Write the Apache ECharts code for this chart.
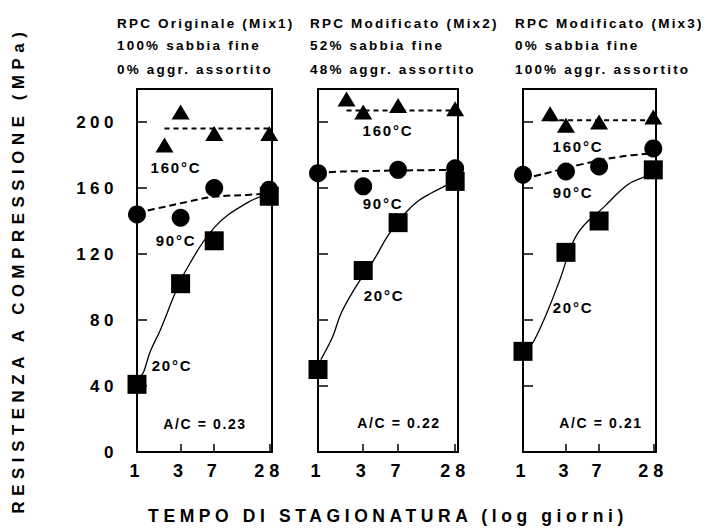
<!DOCTYPE html>
<html>
<head>
<meta charset="utf-8">
<title>Resistenza a compressione RPC</title>
<script src="https://cdn.jsdelivr.net/npm/echarts@6/dist/echarts.min.js"></script>
<style>
  html, body { margin: 0; padding: 0; background: #fff; }
  #chart { width: 709px; height: 528px; }
  /* all lettering in the original is bold and widely spaced, svg text takes it from css */
  #chart text { font-weight: bold !important; }
  #chart text[style*="13.5px"] { letter-spacing: 2.2px; }
  #chart text[style*="17px"] { letter-spacing: 4.5px; }
  #chart text[style*="18px"] { letter-spacing: 5px; }
  #chart text[style*="15px"] { letter-spacing: 1.8px; }
  #chart text[style*="14px"] { letter-spacing: 1.6px; }
  #chart text[style*="17.5px"] { letter-spacing: 4.6px; }
  #chart text[style*="16.8px"] { letter-spacing: 5.6px; }
</style>
</head>
<body>
<div id="chart"></div>
<script>
// giorni di stagionatura
const days = [1, 3, 7, 28];
const days160 = [2, 3, 7, 28];
const xLabelValues = [1, 3, 7, 28];
const xTickValues = [3, 7, 28];
const yTickValues = [0, 40, 80, 120, 160, 200];

const headers = [
  ['RPC Originale (Mix1)', '100% sabbia fine', '0% aggr. assortito'],
  ['RPC Modificato (Mix2)', '52% sabbia fine', '48% aggr. assortito'],
  ['RPC Modificato (Mix3)', '0% sabbia fine', '100% aggr. assortito']
];
const ratios = ['A/C = 0.23', 'A/C = 0.22', 'A/C = 0.21'];
const tempNames = ['160°C', '90°C', '20°C'];

// resistenza (MPa) - Mix1
const mix1At20 = [41, 102, 128, 155];
const mix1At90 = [144, 142, 160, 159];
const mix1At160 = [186, 206, 193, 193];
// Mix2
const mix2At20 = [50, 110, 139, 164];
const mix2At90 = [169, 161, 171, 172];
const mix2At160 = [214, 206, 210, 208];
// Mix3
const mix3At20 = [61, 121, 140, 171];
const mix3At90 = [168, 170, 173, 184];
const mix3At160 = [205, 198, 200, 203];

// curve di tendenza [giorni, MPa]
const fit1At20 = [[1.1, 46], [1.19, 49], [1.4, 61], [1.8, 74], [2.6, 96], [3.3, 108.5], [7, 136], [16, 151], [30, 157]];
const fit1At90 = [[1, 145], [1.9, 148.3], [3.6, 151.7], [7, 154.7], [16, 155.8], [30, 156.8]];
const fit1At160 = [[2, 196], [30, 196]];
const fit2At20 = [[1.07, 56], [1.43, 70], [1.75, 84], [2.44, 99], [3.84, 116], [5.6, 132], [8.4, 145], [11.3, 152], [15.7, 157], [21.5, 161], [30, 165]];
const fit2At90 = [[1, 169], [1.8, 170], [30, 171]];
const fit2At160 = [[2, 207], [30, 207]];
const fit3At20 = [[1.1, 62], [1.31, 67], [1.83, 84], [2.55, 104], [4, 132], [8.1, 149], [14.5, 162], [21.8, 166.5], [30, 170]];
const fit3At90 = [[1, 166], [1.3, 167], [4.2, 174], [12, 179], [30, 181]];
const fit3At160 = [[2, 201], [30, 201]];

const FONT = 'Liberation Sans';

const panels = [
  { left: 137, width: 135, headX: 117, s20: mix1At20, s90: mix1At90, s160: mix1At160,
    f20: fit1At20, f90: fit1At90, f160: fit1At160,
    pos: [[176, 167], [176, 240], [172, 365], [205, 424]] },
  { left: 318, width: 140, headX: 310, s20: mix2At20, s90: mix2At90, s160: mix2At160,
    f20: fit2At20, f90: fit2At90, f160: fit2At160,
    pos: [[388, 130], [383, 203], [384, 295], [399, 423]] },
  { left: 523, width: 133, headX: 515, s20: mix3At20, s90: mix3At90, s160: mix3At160,
    f20: fit3At20, f90: fit3At90, f160: fit3At160,
    pos: [[578, 146], [573, 192], [573, 307], [601, 423]] }
];

function zip(xs, ys) {
  return xs.map((x, i) => [x, ys[i]]);
}

function txt(text, x, y, size, align, extra) {
  return Object.assign({
    type: 'text',
    x: x,
    y: y,
    silent: true,
    style: {
      text: text,
      fill: '#000',
      fontSize: size,
      fontWeight: 'bold',
      fontFamily: FONT,
      align: align,
      textAlign: align,
      verticalAlign: 'middle',
      textVerticalAlign: 'middle'
    }
  }, extra || {});
}

const grids = [];
const xAxes = [];
const yAxes = [];
const series = [];
const graphics = [];

panels.forEach((p, i) => {
  grids.push({
    left: p.left, top: 89, width: p.width, height: 363,
    show: true, borderColor: '#000', borderWidth: 2, backgroundColor: 'transparent'
  });
  xAxes.push({
    type: 'log', logBase: 10, gridIndex: i, min: 1, max: 30,
    axisLine: { show: false },
    splitLine: { show: false },
    minorTick: { show: false },
    axisTick: { show: true, inside: true, length: 8, customValues: xTickValues,
      lineStyle: { color: '#000', width: 1.5 } },
    axisLabel: { show: true, customValues: xLabelValues, margin: 10,
      color: '#000', fontSize: 18, fontWeight: 'bold', fontFamily: FONT,
      formatter: v => String(Math.round(v)) }
  });
  yAxes.push({
    type: 'value', gridIndex: i, min: 0, max: 220,
    axisLine: { show: false },
    splitLine: { show: false },
    axisTick: { show: true, inside: true, length: 10, customValues: yTickValues,
      lineStyle: { color: '#000', width: 1.5 } },
    axisLabel: { show: i === 0, customValues: yTickValues, margin: 19,
      color: '#000', fontSize: 17, fontWeight: 'bold', fontFamily: FONT }
  });

  const common = { xAxisIndex: i, yAxisIndex: i, silent: true, animation: false };
  const dashed = w => ({ color: '#000', width: 2, type: [w, 4] });
  const solid = { color: '#000', opacity: 1 };

  series.push(Object.assign({ type: 'line', data: p.f20, showSymbol: false, smooth: 0.4,
    lineStyle: { color: '#000', width: 1.3 }, z: 2 }, common));
  series.push(Object.assign({ type: 'line', data: p.f90, showSymbol: false, smooth: 0.4,
    lineStyle: dashed(7), z: 2 }, common));
  series.push(Object.assign({ type: 'line', data: p.f160, showSymbol: false,
    lineStyle: dashed(5), z: 2 }, common));

  series.push(Object.assign({ type: 'scatter', data: zip(days, p.s20), symbol: 'rect',
    symbolSize: 19, itemStyle: solid, z: 3 }, common));
  series.push(Object.assign({ type: 'scatter', data: zip(days, p.s90), symbol: 'circle',
    symbolSize: 18, itemStyle: solid, z: 3 }, common));
  series.push(Object.assign({ type: 'scatter', data: zip(days160, p.s160), symbol: 'triangle',
    symbolSize: [18, 15], itemStyle: solid, z: 3 }, common));

  headers[i].forEach((line, k) => {
    graphics.push(txt(line, p.headX, [23, 45, 69][k], 13.5, 'left'));
  });
  tempNames.forEach((name, k) => {
    graphics.push(txt(name, p.pos[k][0], p.pos[k][1], 15, 'center'));
  });
  graphics.push(txt(ratios[i], p.pos[3][0], p.pos[3][1], 14, 'center'));
});

graphics.push(txt('TEMPO DI STAGIONATURA (log giorni)', 388, 516, 17.5, 'center'));
graphics.push(txt('RESISTENZA A COMPRESSIONE (MPa)', 18, 270, 16.8, 'center',
  { rotation: Math.PI / 2 }));

const chart = echarts.init(document.getElementById('chart'), null, { renderer: 'svg' });
chart.setOption({
  animation: false,
  backgroundColor: '#fff',
  grid: grids,
  xAxis: xAxes,
  yAxis: yAxes,
  series: series,
  graphic: graphics
});
</script>
</body>
</html>
